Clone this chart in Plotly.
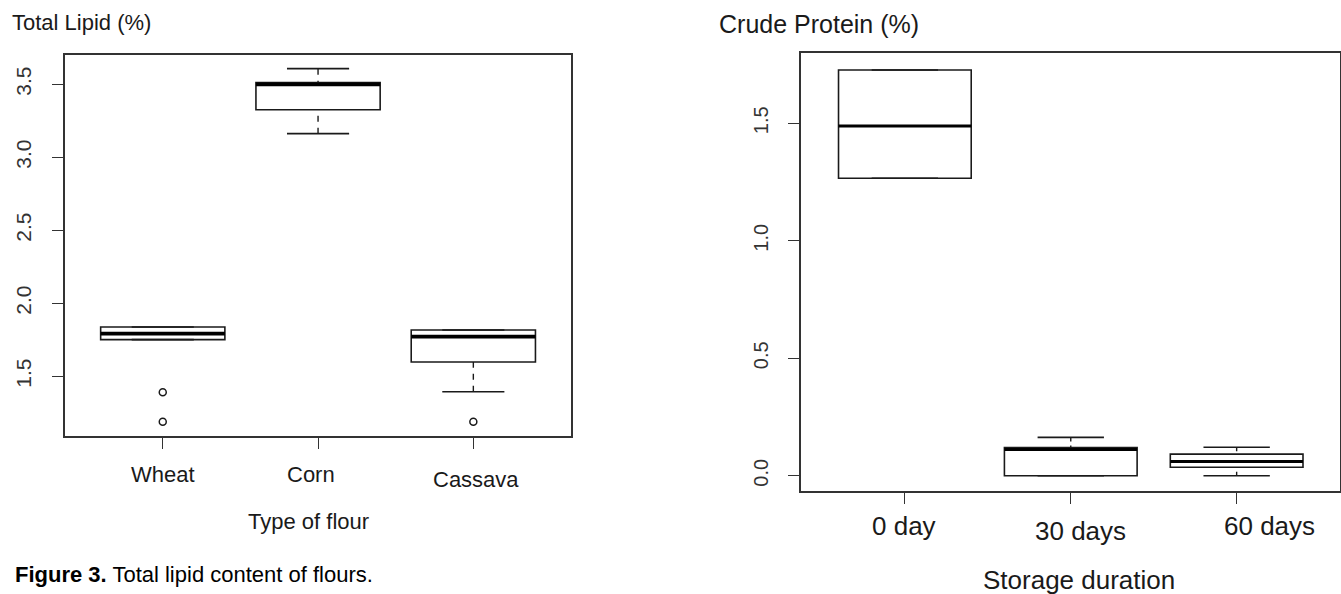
import plotly.graph_objects as go

W, H = 1341, 594

# ---------------- data ----------------
lipid_categories = ["Wheat", "Corn", "Cassava"]
lipid_q1 = [1.751, 3.326, 1.598]
lipid_median = [1.792, 3.500, 1.772]
lipid_q3 = [1.838, 3.512, 1.817]
lipid_lower = [1.751, 3.162, 1.394]
lipid_upper = [1.838, 3.607, 1.817]
lipid_outliers = [[1.390, 1.189], [], [1.189]]

protein_categories = ["0 day", "30 days", "60 days"]
protein_q1 = [1.266, 0.000, 0.036]
protein_median = [1.489, 0.112, 0.060]
protein_q3 = [1.727, 0.120, 0.092]
protein_lower = [1.266, 0.000, 0.000]
protein_upper = [1.727, 0.163, 0.121]
protein_outliers = [[], [], []]

lipid_yticks = [1.5, 2.0, 2.5, 3.0, 3.5]
protein_yticks = [0.0, 0.5, 1.0, 1.5]

FONT = "Liberation Sans, Arial, sans-serif"
INK = "#1a1a1a"
BOXW = 0.8

fig = go.Figure()


def add_boxplot(xa, ya, q1, med, q3, lo, up, outl, medw, dash):
    for i in range(len(q1)):
        fig.add_trace(go.Box(
            x=[i], q1=[q1[i]], median=[med[i]], q3=[q3[i]],
            lowerfence=[q1[i]], upperfence=[q3[i]],
            width=BOXW, whiskerwidth=0, boxpoints=False,
            fillcolor="white", line=dict(color=INK, width=1.6),
            xaxis=xa, yaxis=ya, showlegend=False, hoverinfo="skip"))
        # thick median
        fig.add_trace(go.Scatter(
            x=[i - BOXW / 2, i + BOXW / 2], y=[med[i], med[i]], mode="lines",
            line=dict(color="black", width=medw), xaxis=xa, yaxis=ya,
            showlegend=False, hoverinfo="skip"))
        # whiskers (dashed, drawn from whisker end to box edge)
        for end, edge in ((up[i], q3[i]), (lo[i], q1[i])):
            if abs(end - edge) > 1e-9:
                fig.add_trace(go.Scatter(
                    x=[i, i], y=[end, edge], mode="lines",
                    line=dict(color=INK, width=1.4, dash=dash), xaxis=xa, yaxis=ya,
                    showlegend=False, hoverinfo="skip"))
            # staples
            fig.add_trace(go.Scatter(
                x=[i - BOXW / 4, i + BOXW / 4], y=[end, end], mode="lines",
                line=dict(color=INK, width=1.6), xaxis=xa, yaxis=ya,
                showlegend=False, hoverinfo="skip"))
        if outl[i]:
            fig.add_trace(go.Scatter(
                x=[i] * len(outl[i]), y=outl[i], mode="markers",
                marker=dict(symbol="circle-open", size=7, color=INK,
                            line=dict(width=1.5, color=INK)),
                xaxis=xa, yaxis=ya, showlegend=False, hoverinfo="skip"))


add_boxplot("x", "y", lipid_q1, lipid_median, lipid_q3, lipid_lower, lipid_upper,
            lipid_outliers, 3.8, "6px,6px")
add_boxplot("x2", "y2", protein_q1, protein_median, protein_q3, protein_lower,
            protein_upper, protein_outliers, 3.0, "4px,4px")

axis_common = dict(showline=True, mirror=True, linecolor="#333", linewidth=1.6,
                   showgrid=False, zeroline=False, ticks="outside",
                   tickcolor="#333", tickwidth=1.4, fixedrange=True)

fig.update_layout(
    width=W, height=H, margin=dict(l=0, r=0, t=0, b=0),
    paper_bgcolor="white", plot_bgcolor="white",
    font=dict(family=FONT, color=INK),
    showlegend=False,
    xaxis=dict(domain=[65.4 / W, 570.7 / W], range=[-0.627, 2.627],
               tickvals=[0, 1, 2], showticklabels=False, ticklen=12,
               anchor="y", **axis_common),
    yaxis=dict(domain=[1 - 435.5 / H, 1 - 54.5 / H], range=[1.0945, 3.704],
               tickvals=lipid_yticks, ticktext=[f"{v:.1f}" for v in lipid_yticks],
               tickangle=-90, ticklen=12, ticklabelstandoff=12,
               tickfont=dict(size=21, color="#333"), anchor="x", **axis_common),
    xaxis2=dict(domain=[800.7 / W, 1339.5 / W], range=[-0.628, 2.62],
                tickvals=[0, 1, 2], showticklabels=False, ticklen=11,
                anchor="y2", **axis_common),
    yaxis2=dict(domain=[1 - 490.7 / H, 1 - 53.3 / H], range=[-0.0638, 1.798],
                tickvals=protein_yticks, ticktext=[f"{v:.1f}" for v in protein_yticks],
                tickangle=-90, ticklen=11, ticklabelstandoff=12,
                tickfont=dict(size=20, color="#333"), anchor="x2", **axis_common),
)

ann = []
# category labels (R output has them slightly staggered)
lipid_label_pos = [(0, 474), (-7, 474), (3, 479)]
for i, name in enumerate(lipid_categories):
    dx, py = lipid_label_pos[i]
    ann.append(dict(text=name, x=i, xref="x", xshift=dx, y=1 - py / H, yref="paper",
                    showarrow=False, xanchor="center", yanchor="middle",
                    font=dict(size=22, color=INK)))
protein_label_pos = [(-1, 526), (10, 531), (33, 526)]
for i, name in enumerate(protein_categories):
    dx, py = protein_label_pos[i]
    ann.append(dict(text=name, x=i, xref="x2", xshift=dx, y=1 - py / H, yref="paper",
                    showarrow=False, xanchor="center", yanchor="middle",
                    font=dict(size=26, color=INK)))

ann += [
    dict(text="Total Lipid (%)", x=9.5 / W, y=1 - 22.2 / H, xref="paper", yref="paper",
         xanchor="left", yanchor="middle", showarrow=False, font=dict(size=22, color=INK)),
    dict(text="Type of flour", x=308.7 / W, y=1 - 521.3 / H, xref="paper", yref="paper",
         xanchor="center", yanchor="middle", showarrow=False, font=dict(size=22, color=INK)),
    dict(text="<b>Figure 3.</b> Total lipid content of flours.", x=12.7 / W, y=1 - 574.8 / H,
         xref="paper", yref="paper", xanchor="left", yanchor="middle", showarrow=False,
         font=dict(size=22, color="black")),
    dict(text="Crude Protein (%)", x=717 / W, y=1 - 24.5 / H, xref="paper", yref="paper",
         xanchor="left", yanchor="middle", showarrow=False, font=dict(size=25, color=INK)),
    dict(text="Storage duration", x=1078.5 / W, y=1 - 579.5 / H, xref="paper", yref="paper",
         xanchor="center", yanchor="middle", showarrow=False, font=dict(size=26, color=INK)),
]
fig.update_layout(annotations=ann)

fig.write_html("out.html", config={"displayModeBar": False})
